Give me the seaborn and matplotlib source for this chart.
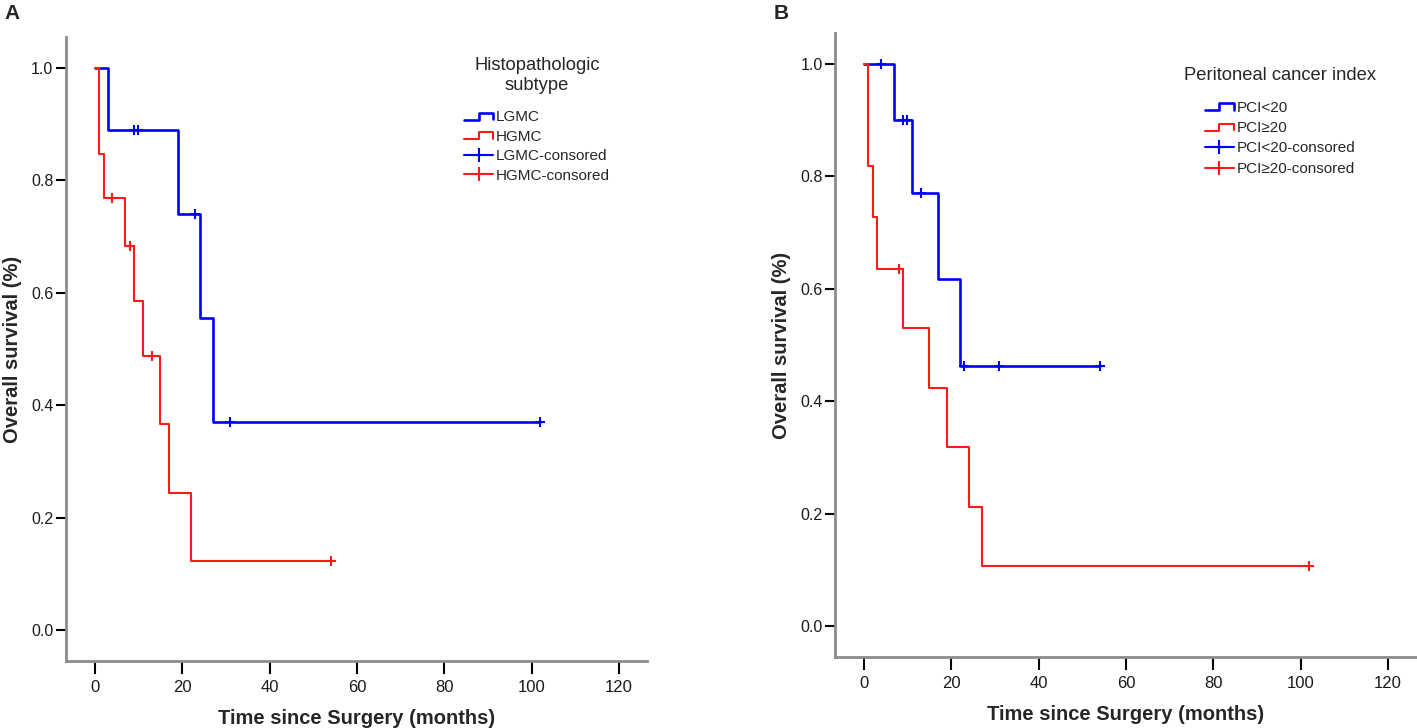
import numpy as np
import pandas as pd
import matplotlib
matplotlib.use("Agg")
import matplotlib.pyplot as plt
import seaborn as sns
from matplotlib.lines import Line2D
from matplotlib.legend_handler import HandlerBase

# ---------------- data ----------------
# Panel A: histopathologic subtype
a_lgmc_t = [0, 3, 19, 24, 27, 102]
a_lgmc_s = [1.0, 0.889, 0.741, 0.556, 0.370, 0.370]
a_lgmc_cens = [9.0, 9.8, 23, 31, 102]
a_hgmc_t = [0, 1, 2, 7, 9, 11, 15, 17, 22, 54]
a_hgmc_s = [1.0, 0.846, 0.769, 0.684, 0.586, 0.488, 0.366, 0.244, 0.122, 0.122]
a_hgmc_cens = [4, 8, 13, 54]
a_labels = ["LGMC", "HGMC", "LGMC-consored", "HGMC-consored"]
a_title = "Histopathologic\nsubtype"

# Panel B: peritoneal cancer index
b_low_t = [0, 7, 11, 17, 22, 54]
b_low_s = [1.0, 0.900, 0.771, 0.617, 0.463, 0.463]
b_low_cens = [4, 9.0, 9.8, 13, 23, 31, 54]
b_high_t = [0, 1, 2, 3, 9, 15, 19, 24, 27, 102]
b_high_s = [1.0, 0.818, 0.727, 0.636, 0.530, 0.424, 0.318, 0.212, 0.106, 0.106]
b_high_cens = [8, 102]
b_labels = ["PCI<20", "PCI\u226520", "PCI<20-consored", "PCI\u226520-consored"]
b_title = "Peritoneal cancer index"

x_ticks = [0, 20, 40, 60, 80, 100, 120]
y_ticks = [0.0, 0.2, 0.4, 0.6, 0.8, 1.0]
x_label = "Time since Surgery (months)"
y_label = "Overall survival (%)"

# ---------------- style ----------------
sns.set_style("white")
plt.rcParams["font.family"] = ["Liberation Sans", "DejaVu Sans"]

BLUE = "#0000ff"
RED = "#ff1a1a"
SPINE = "#8c8c8c"

W, H = 1417, 728
fig = plt.figure(figsize=(W / 100, H / 100), dpi=100)
axA = fig.add_axes([66 / W, (H - 661) / H, 581 / W, 624 / H])
axB = fig.add_axes([835 / W, (H - 657) / H, 581 / W, 624 / H])


class StepHandler(HandlerBase):
    def create_artists(self, legend, orig_handle, xdescent, ydescent,
                       width, height, fontsize, trans):
        x0, y0 = -xdescent, -ydescent
        xm = x0 + 0.5 * width
        xs = [x0, xm, xm, x0 + width, x0 + width]
        ys = [y0 + 0.12 * height, y0 + 0.12 * height, y0 + 0.78 * height,
              y0 + 0.78 * height, y0 + 0.2 * height]
        ln = Line2D(xs, ys, color=orig_handle.get_color(),
                    lw=orig_handle.get_linewidth())
        ln.set_transform(trans)
        return [ln]


def surv_at(times, surv, c):
    idx = np.searchsorted(np.asarray(times, float), c, side="right") - 1
    return surv[idx]


def draw_panel(ax, curves, labels, title, legend_xy, spacing):
    step_handles = []
    cens_handles = []
    for t, s, cens, col, lw in curves:
        df = pd.DataFrame({"t": t, "s": s})
        sns.lineplot(data=df, x="t", y="s", ax=ax, color=col, lw=lw,
                     drawstyle="steps-post", estimator=None, sort=False,
                     legend=False)
        cdf = pd.DataFrame({"t": cens, "s": [surv_at(t, s, c) for c in cens]})
        sns.scatterplot(data=cdf, x="t", y="s", ax=ax, marker="+", s=60,
                        color=col, linewidth=1.5, legend=False, zorder=3)
        step_handles.append(Line2D([], [], color=col, lw=lw))
        cens_handles.append(Line2D([], [], color=col, lw=1.5, marker="+",
                                   markersize=10, markeredgewidth=1.5))
    ax.set_xlim(-6.6, 126.4)
    ax.set_ylim(-0.055, 1.055)
    ax.set_xticks(x_ticks)
    ax.set_yticks(y_ticks)
    ax.set_xticklabels([str(v) for v in x_ticks])
    ax.set_yticklabels([f"{v:.1f}" for v in y_ticks])
    for side in ["top", "right"]:
        ax.spines[side].set_visible(False)
    for side in ["left", "bottom"]:
        ax.spines[side].set_color(SPINE)
        ax.spines[side].set_linewidth(2)
    ax.tick_params(axis="x", length=9, width=1.5, color="black", pad=5,
                   labelsize=12, labelcolor="#1a1a1a", direction="out",
                   bottom=True)
    ax.tick_params(axis="y", length=7, width=1.5, color="black", pad=2,
                   labelsize=11.5, labelcolor="#1a1a1a", direction="out",
                   left=True)
    ax.set_xlabel(x_label, fontsize=14.5, fontweight="bold", labelpad=10)
    ax.set_ylabel(y_label, fontsize=14.5, fontweight="bold")
    ax.yaxis.set_label_coords(-0.076, 0.5)
    handles = step_handles + cens_handles
    leg = ax.legend(handles, labels, title=title, loc="upper left",
                    bbox_to_anchor=legend_xy, bbox_transform=fig.transFigure,
                    frameon=False, fontsize=11, title_fontsize=13.2,
                    handlelength=1.9, handletextpad=0.2, labelspacing=spacing,
                    numpoints=1, borderpad=0, borderaxespad=0,
                    handler_map={h: StepHandler() for h in step_handles})
    leg.get_title().set_multialignment("center")
    leg._legend_box.align = "center"
    leg._legend_box.sep = 12


draw_panel(axA,
           [(a_lgmc_t, a_lgmc_s, a_lgmc_cens, BLUE, 1.9),
            (a_hgmc_t, a_hgmc_s, a_hgmc_cens, RED, 1.5)],
           a_labels, a_title, (464 / W, 1 - 57 / H), 0.36)
draw_panel(axB,
           [(b_low_t, b_low_s, b_low_cens, BLUE, 1.9),
            (b_high_t, b_high_s, b_high_cens, RED, 1.5)],
           b_labels, b_title, (1184 / W, 1 - 67 / H), 0.42)

fig.text(4 / W, 1 - 4 / H, "A", fontsize=15, fontweight="bold",
         ha="left", va="top")
fig.text(774 / W, 1 - 4 / H, "B", fontsize=15, fontweight="bold",
         ha="left", va="top")

fig.savefig("out.png", dpi=100)
